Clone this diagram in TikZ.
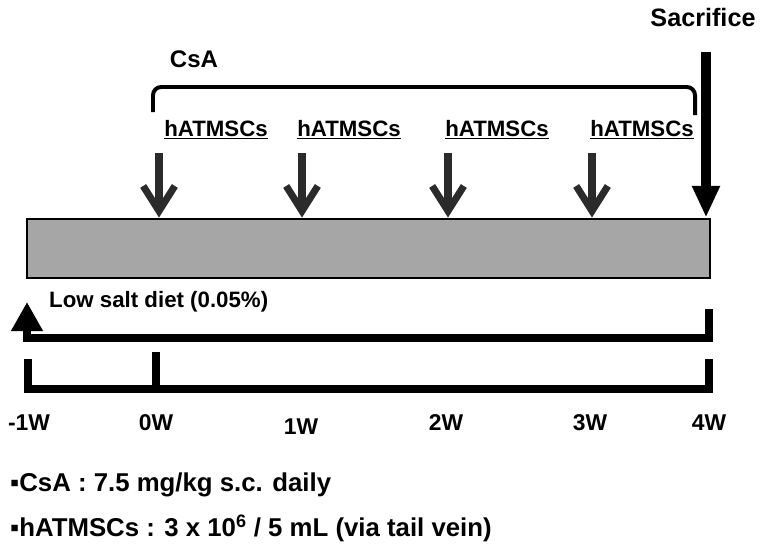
\documentclass[tikz,border=0pt]{standalone}
\usepackage{fontspec}
\setmainfont{Liberation Sans}
\usepackage{xcolor}
\usetikzlibrary{positioning, arrows.meta, calc}

\definecolor{periodgray}{HTML}{A6A6A6}
\definecolor{cellgray}{HTML}{2B2B2B}

\begin{document}
\begin{tikzpicture}[
    x=0.03cm, y=-0.03cm,
    title/.style={font=\fontsize{21.5}{24}\selectfont\bfseries, inner sep=0pt},
    drug/.style={font=\fontsize{20.5}{23}\selectfont\bfseries, inner sep=0pt},
    cell/.style={font=\fontsize{19}{21}\selectfont\bfseries, inner sep=0pt},
    week/.style={font=\fontsize{19.5}{22}\selectfont\bfseries, inner sep=0pt},
    note/.style={font=\fontsize{22}{25}\selectfont\bfseries, inner sep=0pt, anchor=west},
    period/.style={rectangle, draw, line width=2.5pt, fill=periodgray, minimum width=20.49cm, minimum height=1.77cm, inner sep=0pt},
    cellarrow/.style={line width=6pt, draw=cellgray, -{Straight Barb[length=0.75cm, width=0.95cm]}},
    sacarrow/.style={line width=8.5pt, -{Triangle[length=0.95cm, width=0.78cm]}},
    bar/.style={line width=6.5pt, line join=miter},
    bracket/.style={line width=3.4pt, rounded corners=7pt}
]
\useasboundingbox (0,0) rectangle (763,551);

% Nodes
\node[title] (sac) at (703,17) {Sacrifice};
\node[drug] (csa) at (194,59) {CsA};

\node[cell] (h0) at (216,130) {\underline{hATMSCs}};
\node[cell] (h1) at (349,130) {\underline{hATMSCs}};
\node[cell] (h2) at (497,130) {\underline{hATMSCs}};
\node[cell] (h3) at (642,130) {\underline{hATMSCs}};

\node[period] (treat) at (368.5,248.5) {};

\node[cell, anchor=west] (diet) at (49,302) {Low salt diet (0.05\%)};

\node[week] (wm1) at (29,423) {-1W};
\node[week] (w0) at (156,423) {0W};
\node[week] (w1) at (301,427) {1W};
\node[week] (w2) at (446,423) {2W};
\node[week] (w3) at (590,423) {3W};
\node[week] (w4) at (709,423) {4W};

\node[note] (csanote) at (10,485) {▪CsA : 7.5 mg/kg s.c. daily};
\node[note] (cellnote) at (10,528) {▪hATMSCs : 3 x 10\textsuperscript{6} / 5 mL (via tail vein)};

% Coordinates
\coordinate (a0) at (159,153);
\coordinate (a1) at (302,153);
\coordinate (a2) at (448,153);
\coordinate (a3) at (592,153);
\coordinate (sactop) at (706,52);
\coordinate (csaL) at (153,112);
\coordinate (csaR) at (695,115);
\coordinate (dietR) at (709,309);
\coordinate (dietL) at (27,302);
\coordinate (startL) at (28,359);
\coordinate (startR) at (709,359);
\coordinate (zero) at (156,352);

% Arrows
\draw[bracket] (csaL) -- (csaL |- 0,87) -- (csaR |- 0,87) -- (csaR);

\foreach \a in {a0,a1,a2,a3}
    \draw[cellarrow] (\a) -- (\a |- treat.north);

\draw[sacarrow] (sactop) -- (sactop |- treat.north);

\draw[bar, -{Triangle[length=0.87cm, width=0.9cm]}] (dietR) -- ++(0,29) -| (dietL);

\draw[bar, line width=7pt] (startL) -- ++(0,30) -| (startR);
\draw[bar, line width=7pt] (zero) -- (zero |- 0,389);

\end{tikzpicture}
\end{document}
